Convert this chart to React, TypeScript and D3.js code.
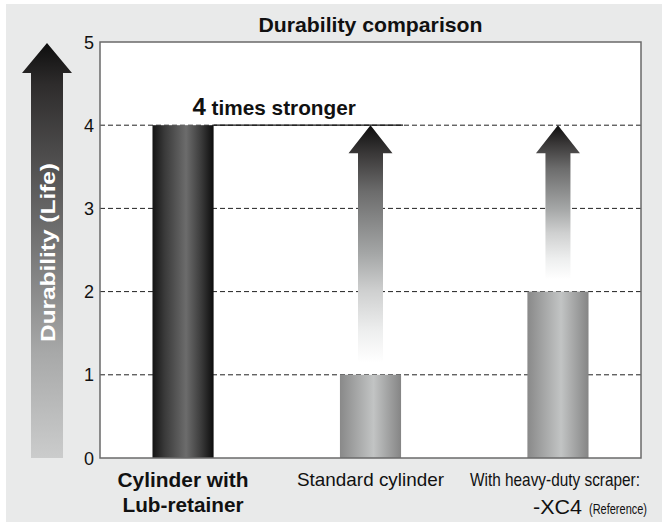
import React from "react";
import * as d3 from "d3";

const categories = ["lub", "standard", "scraper"];
const values = [4, 1, 2];
const arrowTargets = [null, 4, 4];
const arrowEnds = [null, 0.98, 1.98];
const yTicks = [0, 1, 2, 3, 4, 5];
const gridValues = [1, 2, 3, 4];
const titleText = "Durability comparison";
const yTitle = "Durability (Life)";
const annotationNum = "4";
const annotationText = " times stronger";

const W = 662;
const H = 522;
const plot = { left: 100, right: 641, top: 42, bottom: 458 };
const font = "'Liberation Sans', Arial, Helvetica, sans-serif";

export default function App() {
  const y = d3.scaleLinear().domain([0, 5]).range([plot.bottom, plot.top]);
  const x = d3
    .scaleBand<string>()
    .domain(categories)
    .range([plot.left, plot.right])
    .paddingInner(0.674)
    .paddingOuter(0.28);
  const bw = x.bandwidth();

  const arrowPath = (cx: number, tip: number, bottom: number, headHalf: number, headH: number, shaftHalf: number) => {
    const p = d3.path();
    p.moveTo(cx, tip);
    p.lineTo(cx + headHalf, tip + headH);
    p.lineTo(cx + shaftHalf, tip + headH);
    p.lineTo(cx + shaftHalf, bottom);
    p.lineTo(cx - shaftHalf, bottom);
    p.lineTo(cx - shaftHalf, tip + headH);
    p.lineTo(cx - headHalf, tip + headH);
    p.closePath();
    return p.toString();
  };

  const bar1Right = (x(categories[0]) as number) + bw;
  const bar2Right = (x(categories[1]) as number) + bw;

  return (
    <svg width={W} height={H} style={{ position: "absolute", left: 0, top: 0, display: "block" }} fontFamily={font}>
      <defs>
        <linearGradient id="darkBar" x1="0" y1="0" x2="1" y2="0">
          <stop offset="0" stopColor="#141414" />
          <stop offset="0.2" stopColor="#3a3a3a" />
          <stop offset="0.55" stopColor="#6c6c6c" />
          <stop offset="0.8" stopColor="#3a3a3a" />
          <stop offset="1" stopColor="#0c0c0c" />
        </linearGradient>
        <linearGradient id="lightBar" x1="0" y1="0" x2="1" y2="0">
          <stop offset="0" stopColor="#898989" />
          <stop offset="0.55" stopColor="#c2c4c4" />
          <stop offset="1" stopColor="#858585" />
        </linearGradient>
        <linearGradient id="fadeArrow" x1="0" y1="0" x2="0" y2="1">
          <stop offset="0" stopColor="#0e0e0e" />
          <stop offset="0.12" stopColor="#3a3838" />
          <stop offset="0.28" stopColor="#6c6c6c" />
          <stop offset="0.54" stopColor="#a4a6a6" />
          <stop offset="0.7" stopColor="#cfd0d0" />
          <stop offset="0.87" stopColor="#eeefef" />
          <stop offset="1" stopColor="#ffffff" />
        </linearGradient>
        <linearGradient id="axisArrow" x1="0" y1="0" x2="0" y2="1">
          <stop offset="0" stopColor="#0e0e0e" />
          <stop offset="0.1" stopColor="#2e2c2c" />
          <stop offset="0.45" stopColor="#6e6e6e" />
          <stop offset="0.75" stopColor="#a8a9a9" />
          <stop offset="1" stopColor="#cbcccc" />
        </linearGradient>
      </defs>

      <rect x={6} y={4} width={W - 6} height={H - 4} fill="#e9eaea" />

      <text x={(plot.left + plot.right) / 2} y={32} textAnchor="middle" fontWeight="bold" fontSize={21} textLength={224} lengthAdjust="spacingAndGlyphs" fill="#111">
        {titleText}
      </text>

      {/* y axis arrow */}
      <path d={arrowPath(47, y(5) + 1, y(0), 25, 30, 16)} fill="url(#axisArrow)" />
      <text
        transform={`translate(55,${(y(0) + y(5)) / 2 + 2.5}) rotate(-90)`}
        textAnchor="middle"
        fontWeight="bold"
        fontSize={21}
        textLength={179}
        lengthAdjust="spacingAndGlyphs"
        fill="#ffffff"
      >
        {yTitle}
      </text>

      <rect x={plot.left} y={plot.top} width={plot.right - plot.left} height={plot.bottom - plot.top} fill="#ffffff" />

      {gridValues.map((v) => (
        <line key={v} x1={plot.left} x2={plot.right} y1={y(v)} y2={y(v)} stroke="#222" strokeWidth={1} strokeDasharray="5,3" />
      ))}
      <line x1={bar1Right} x2={bar2Right + 2} y1={y(4)} y2={y(4)} stroke="#111" strokeWidth={1.2} />

      {categories.map((c, i) =>
        arrowTargets[i] !== null ? (
          <path
            key={"a" + c}
            d={arrowPath((x(c) as number) + bw / 2, y(arrowTargets[i] as number), y(arrowEnds[i] as number) - 14, 22, 28, 12.5)}
            fill="url(#fadeArrow)"
          />
        ) : null
      )}

      {categories.map((c, i) => (
        <rect
          key={c}
          x={x(c) as number}
          y={y(values[i])}
          width={bw}
          height={y(0) - y(values[i])}
          fill={i === 0 ? "url(#darkBar)" : "url(#lightBar)"}
        />
      ))}

      <rect x={plot.left} y={plot.top} width={plot.right - plot.left} height={plot.bottom - plot.top} fill="none" stroke="#6a6a6a" strokeWidth={1.5} />

      {yTicks.map((t) => (
        <text key={t} x={plot.left - 6} y={y(t) + 6.5} textAnchor="end" fontSize={18} fill="#111">
          {t}
        </text>
      ))}

      <text x={(x(categories[0]) as number) + 40} y={115} fontWeight="bold" fill="#111">
        <tspan fontSize={24}>{annotationNum}</tspan>
        <tspan fontSize={21} textLength={150} lengthAdjust="spacingAndGlyphs">{annotationText}</tspan>
      </text>

      {/* category labels */}
      <text x={(x(categories[0]) as number) + bw / 2} y={487} textAnchor="middle" fontWeight="bold" fontSize={20} fill="#111">
        <tspan x={(x(categories[0]) as number) + bw / 2} y={487} textLength={131} lengthAdjust="spacingAndGlyphs">Cylinder with</tspan>
        <tspan x={(x(categories[0]) as number) + bw / 2} y={512} textLength={121} lengthAdjust="spacingAndGlyphs">Lub-retainer</tspan>
      </text>
      <text x={(x(categories[1]) as number) + bw / 2} y={486} textAnchor="middle" fontSize={19} fill="#111" textLength={147} lengthAdjust="spacingAndGlyphs">
        Standard cylinder
      </text>
      <text x={555} y={486} textAnchor="middle" fontSize={19} fill="#111" textLength={170} lengthAdjust="spacingAndGlyphs">
        With heavy-duty scraper:
      </text>
      <text x={533} y={514} fontSize={21} fill="#111" textLength={49} lengthAdjust="spacingAndGlyphs">
        -XC4
      </text>
      <text x={589} y={514} fontSize={14} fill="#111" textLength={58} lengthAdjust="spacingAndGlyphs">
        (Reference)
      </text>
    </svg>
  );
}
